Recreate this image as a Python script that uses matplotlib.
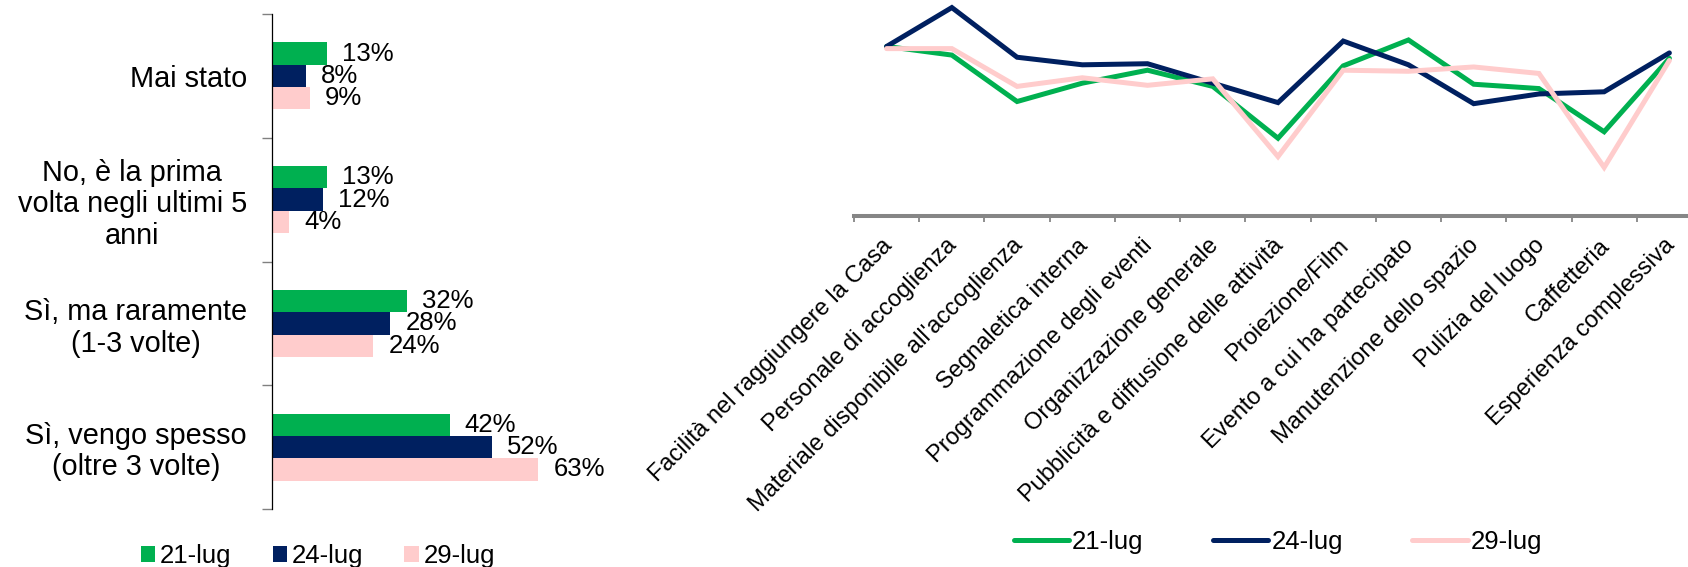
import matplotlib
matplotlib.use("Agg")
import matplotlib.pyplot as plt
import numpy as np

plt.rcParams['font.family'] = ['Liberation Sans', 'DejaVu Sans']

# ---- data -------------------------------------------------------------
series_names = ["21-lug", "24-lug", "29-lug"]
series_colors = ["#00B050", "#002060", "#FFCCCC"]

freq_categories = [
    "Mai stato",
    "No, è la prima\nvolta negli ultimi 5\nanni",
    "Sì, ma raramente\n(1-3 volte)",
    "Sì, vengo spesso\n(oltre 3 volte)",
]
freq_21 = [13, 13, 32, 42]
freq_24 = [8, 12, 28, 52]
freq_29 = [9, 4, 24, 63]

rating_categories = [
    "Facilità nel raggiungere la Casa",
    "Personale di accoglienza",
    "Materiale disponibile all'accoglienza",
    "Segnaletica interna",
    "Programmazione degli eventi",
    "Organizzazione generale",
    "Pubblicità e diffusione delle attività",
    "Proiezione/Film",
    "Evento a cui ha partecipato",
    "Manutenzione dello spazio",
    "Pulizia del luogo",
    "Caffetteria",
    "Esperienza complessiva",
]
rating_21 = [4.57, 4.49, 4.06, 4.23, 4.35, 4.20, 3.72, 4.39, 4.63, 4.22, 4.18, 3.78, 4.46]
rating_24 = [4.57, 4.93, 4.47, 4.40, 4.41, 4.23, 4.05, 4.62, 4.40, 4.04, 4.13, 4.15, 4.51]
rating_29 = [4.55, 4.55, 4.20, 4.28, 4.21, 4.27, 3.55, 4.35, 4.34, 4.38, 4.32, 3.45, 4.44]

# ---- figure -----------------------------------------------------------
W, H = 1688, 567
fig = plt.figure(figsize=(W / 100, H / 100), dpi=100)

# left: horizontal grouped bars
axb = fig.add_axes([272 / W, (H - 509) / H, 296 / W, 495 / H])
y = np.arange(len(freq_categories))
bar_h = 0.18
freq_series = [freq_21, freq_24, freq_29]
for i, (vals, col, name) in enumerate(zip(freq_series, series_colors, series_names)):
    pos = y + (i - 1) * bar_h
    axb.barh(pos, vals, height=bar_h, color=col, label=name)
    for p, v in zip(pos, vals):
        axb.annotate(f"{v}%", xy=(v, p), xytext=(15, 0), textcoords="offset pixels",
                     ha="left", va="center", fontsize=18.5, color="black")

axb.set_xlim(0, 70)
axb.set_ylim(len(freq_categories) - 0.5, -0.5)
axb.set_yticks(np.arange(-0.5, len(freq_categories)), labels=[])
axb.set_yticks(y, labels=freq_categories, minor=True)
axb.tick_params(axis="y", which="major", direction="out", length=7, width=1, color="#808080")
axb.tick_params(axis="y", which="minor", length=0, pad=18, labelsize=20.8)
for lab in axb.get_yticklabels(minor=True):
    lab.set_multialignment("center")
    lab.set_linespacing(1.15)
axb.set_xticks([])
for s in ["top", "right", "bottom"]:
    axb.spines[s].set_visible(False)
axb.spines["left"].set_color("black")
axb.spines["left"].set_linewidth(0.9)

fig.legend(*axb.get_legend_handles_labels(), loc="center", bbox_to_anchor=(318 / W, 1 - 556 / H),
           ncol=3, frameon=False, fontsize=18.5, handlelength=0.55, handleheight=0.55,
           handletextpad=0.2, columnspacing=1.6, borderaxespad=0, borderpad=0)

# right: line chart of ratings
axl = fig.add_axes([854 / W, (H - 216) / H, 848 / W, 216 / H])
x = np.arange(len(rating_categories))
rating_series = [rating_21, rating_24, rating_29]
for vals, col, name in zip(rating_series, series_colors, series_names):
    axl.plot(x, vals, color=col, lw=3.6, label=name, solid_joinstyle="miter",
             solid_capstyle="round")

axl.set_xlim(-0.5, len(rating_categories) - 0.5)
axl.set_ylim(3, 5)
axl.set_yticks([])
axl.set_xticks(np.arange(-0.5, len(rating_categories)), labels=[])
axl.set_xticks(x + 0.03, labels=rating_categories, minor=True)
axl.tick_params(axis="x", which="major", direction="out", length=4.5, width=1.3, color="#868686")
axl.tick_params(axis="x", which="minor", length=0, pad=19, labelsize=17)
for lab in axl.get_xticklabels(minor=True):
    lab.set_rotation(45)
    lab.set_ha("right")
    lab.set_va("center")
    lab.set_rotation_mode("anchor")
for s in ["top", "right", "left"]:
    axl.spines[s].set_visible(False)
axl.spines["bottom"].set_color("#868686")
axl.spines["bottom"].set_linewidth(2.9)
axl.patch.set_alpha(0)

fig.legend(*axl.get_legend_handles_labels(), loc="center", bbox_to_anchor=(1278 / W, 1 - 542 / H),
           ncol=3, frameon=False, fontsize=18.5, handlelength=2.16, handletextpad=0.12,
           columnspacing=2.7, borderaxespad=0, borderpad=0)

fig.savefig("out.png", dpi=100)
